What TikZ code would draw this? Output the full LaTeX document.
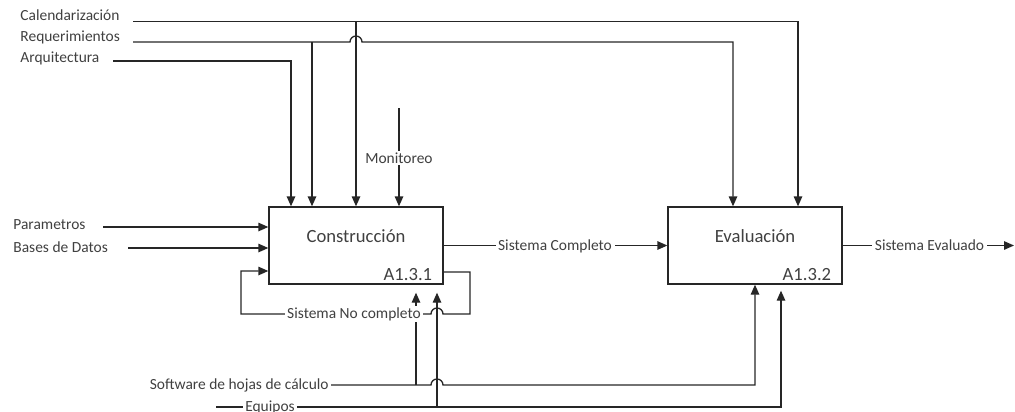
\documentclass[tikz,border=0pt]{standalone}
\usepackage{fontspec}
\setmainfont{Carlito}
\usetikzlibrary{arrows.meta,positioning,calc}

\begin{document}
\begin{tikzpicture}[>={Triangle[length=2mm,width=1.7mm]},line width=0.75pt,draw=black!85,
   font=\fontsize{8.8}{10}\selectfont,
   box/.style={draw,minimum width=3.48cm,minimum height=1.54cm,inner sep=0pt},
   boxtxt/.style={font=\fontsize{10.6}{12}\selectfont,text=black!75},
   lbl/.style={inner sep=1pt,text=black!75},
   onl/.style={lbl,fill=white,inner xsep=1.5pt}]
  \useasboundingbox (0,0) rectangle (20.3,-8.22);
  \node[box] (cons) at (7.12,-4.91) {};
  \node[box] (eva) at (15.10,-4.91) {};
  \node[boxtxt] (consT) at (7.12,-4.72) {Construcción};
  \node[boxtxt] (evaT) at (15.10,-4.72) {Evaluación};
  \node[boxtxt,anchor=base east] (consN) at ([xshift=-0.1cm,yshift=0.09cm]cons.south east) {A1.3.1};
  \node[boxtxt,anchor=base east] (evaN) at ([xshift=-0.1cm,yshift=0.09cm]eva.south east) {A1.3.2};
  \coordinate (ct1) at ([xshift=-1.30cm]cons.north);
  \coordinate (ct2) at ([xshift=-0.88cm]cons.north);
  \coordinate (ct4) at ([xshift=0.86cm]cons.north);
  \coordinate (et1) at ([xshift=-0.44cm]eva.north);
  \coordinate (et2) at ([xshift=0.86cm]eva.north);
  \coordinate (cb1) at ([xshift=1.20cm,yshift=-0.16cm]cons.south);
  \coordinate (cb2) at ([xshift=1.62cm,yshift=-0.16cm]cons.south);
  \coordinate (eb2) at ([xshift=0.52cm,yshift=-0.12cm]eva.south);
  \node[lbl,anchor=west] (cal) at (0.36,-0.31) {Calendarización};
  \node[lbl,anchor=west] (req) at (0.36,-0.75) {Requerimientos};
  \node[lbl,anchor=west] (arq) at (0.36,-1.16) {Arquitectura};
  \coordinate (calS) at (2.66,-0.43);
  \coordinate (reqS) at (2.66,-0.84);
  \coordinate (arqS) at (2.26,-1.22);
  \draw[->] (calS) -| (et2);
  \draw[->] (calS -| cons.north) -- (cons.north);
  \draw[->] (reqS) -- ($(reqS -| cons.north)+(-0.12,0)$) arc[start angle=180,end angle=0,radius=0.12] -| (et1);
  \draw[->] (ct2 |- reqS) -- (ct2);
  \draw[->] (arqS) -| (ct1);
  \coordinate (monS) at (7.98,-2.16);
  \draw[->] (monS) -- (ct4);
  \node[onl] (mon) at (7.98,-3.16) {Monitoreo};
  \node[lbl,anchor=west] (par) at (0.22,-4.50) {Parametros};
  \node[lbl,anchor=west] (bd) at (0.22,-4.95) {Bases de Datos};
  \coordinate (parS) at (2.06,-4.54);
  \coordinate (bdS) at (2.56,-4.96);
  \draw[->] (parS) -- (parS -| cons.west);
  \draw[->] (bdS) -- (bdS -| cons.west);
  \coordinate (lpR) at (9.40,-6.28);
  \coordinate (lpL) at (4.82,-6.28);
  \draw[->] ([yshift=-0.53cm]cons.east) -| (lpR) -- ($(cb2 |- lpR)+(0.12,0)$) arc[start angle=0,end angle=180,radius=0.12] -- (lpL) |- ([yshift=-0.51cm]cons.west);
  \draw[->] (cons.east) -- (eva.west);
  \node[onl] (comp) at (11.10,-4.93) {Sistema Completo};
  \coordinate (outE) at (20.28,-4.91);
  \draw[->] (eva.east) -- (outE);
  \node[onl] (evald) at (18.59,-4.91) {Sistema Evaluado};
  \coordinate (eqS) at (4.32,-8.14);
  \draw[->] (eqS) -| (eb2);
  \draw[->] (cb2 |- eqS) -- (cb2);
  \node[lbl,anchor=east] (sw) at (6.62,-7.70) {Software de hojas de cálculo};
  \draw[->] (sw.east) -- ($(cb2 |- sw.east)+(-0.12,0)$) arc[start angle=180,end angle=0,radius=0.12] -| (eva.south);
  \draw[->] (cb1 |- sw.east) -- (cb1);
  \node[onl] (nocomp) at (7.08,-6.28) {Sistema No completo};
  \node[onl] (eq) at (5.40,-8.14) {Equipos};
\end{tikzpicture}
\end{document}
